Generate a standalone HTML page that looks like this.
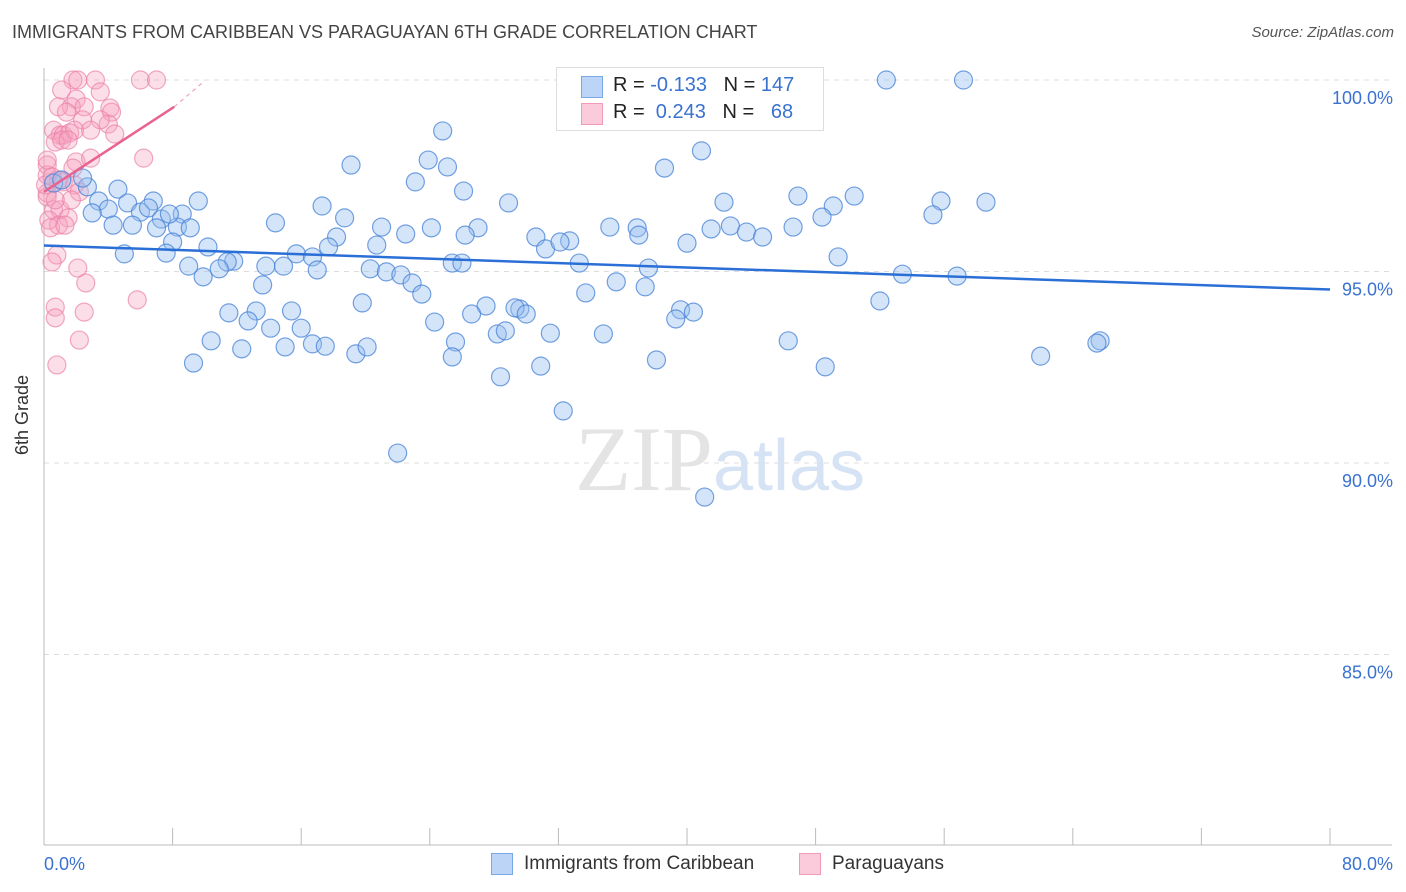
<!DOCTYPE html>
<html><head><meta charset="utf-8">
<style>
body{margin:0;background:#fff;font-family:"Liberation Sans",sans-serif;}
#wrap{position:relative;width:1406px;height:892px;overflow:hidden;}
.t{position:absolute;white-space:nowrap;}
</style></head>
<body>
<div id="wrap">
<div class="t" style="left:12px;top:22px;font-size:18px;color:#444;">IMMIGRANTS FROM CARIBBEAN VS PARAGUAYAN 6TH GRADE CORRELATION CHART</div>
<div class="t" style="right:12px;top:24px;font-size:15px;color:#555;font-style:italic;">Source: ZipAtlas.com</div>
<svg id="chart" width="1406" height="892" style="position:absolute;left:0;top:0"></svg>
<div class="t" style="left:556px;top:67px;width:266px;height:62px;border:1px solid #ddd;background:rgba(255,255,255,0.9);">
  <div style="position:absolute;left:24px;top:8px;width:20px;height:20px;background:#bcd4f5;border:1px solid #7aa7e6;"></div>
  <div style="position:absolute;left:24px;top:35px;width:20px;height:20px;background:#fbcadb;border:1px solid #f09ab8;"></div>
  <div style="position:absolute;left:56px;top:6px;font-size:20px;color:#222;">R = <span style="color:#3a72d0">-0.133</span>&nbsp;&nbsp;&nbsp;N = <span style="color:#3a72d0">147</span></div>
  <div style="position:absolute;left:56px;top:33px;font-size:20px;color:#222;">R = &nbsp;<span style="color:#3a72d0">0.243</span>&nbsp;&nbsp;&nbsp;N = &nbsp;&nbsp;<span style="color:#3a72d0">68</span></div>
</div>
<div class="t" style="left:491px;top:853px;width:20px;height:20px;background:#bcd4f5;border:1px solid #7aa7e6;"></div>
<div class="t" style="left:524px;top:853px;font-size:19px;color:#333;">Immigrants from Caribbean</div>
<div class="t" style="left:799px;top:853px;width:20px;height:20px;background:#fbcadb;border:1px solid #f09ab8;"></div>
<div class="t" style="left:832px;top:853px;font-size:19px;color:#333;">Paraguayans</div>
<div class="t" style="left:12px;top:455px;font-size:18px;color:#333;transform:rotate(-90deg);transform-origin:left top;">6th Grade</div>
</div>
<script>
const yTicks=[100,95,90,85];
const yTickLabels=["100.0%","95.0%","90.0%","85.0%"];
const xEndLabels=["0.0%","80.0%"];
const blueX=[52.4,57.2,24.8,40.9,23.9,19.1,25.1,38.6,23.1,26.1,46.9,50.4,4.6,2.7,0.6,1.1,2.4,6.8,9.6,17.3,28.9,42.3,55.8,58.6,5.2,3.4,4.0,3.0,6.0,6.5,7.3,8.6,18.7,14.4,21.0,24.1,27.0,35.2,36.9,41.5,42.7,49.1,48.4,55.3,46.6,4.3,5.5,7.0,8.3,22.5,30.6,32.7,37.0,43.7,44.7,26.2,8.0,10.2,18.2,17.7,20.7,31.2,32.1,40.0,5.0,7.6,15.7,16.7,49.4,11.8,9.0,11.4,13.8,14.9,25.4,26.0,33.3,37.6,10.9,9.9,17.0,20.3,21.3,22.2,22.9,53.4,56.8,13.6,23.5,33.7,35.6,37.4,19.8,27.5,29.6,29.3,30.0,52.0,11.5,13.2,15.4,26.6,39.6,40.4,39.3,12.7,24.3,14.1,16.0,10.4,12.3,15.0,16.7,17.5,19.4,20.1,25.6,28.2,28.7,31.5,34.8,46.3,65.7,65.5,9.3,25.4,30.9,38.1,48.6,62.0,28.4,32.3,22.0,41.1,7.8,9.1];
const blueY=[100,100,98.67,98.15,97.91,97.78,97.73,97.70,97.34,97.10,96.97,96.97,97.15,97.21,97.31,97.39,97.44,96.84,96.84,96.71,96.79,96.81,96.84,96.81,96.79,96.84,96.63,96.53,96.55,96.66,96.37,96.50,96.40,96.27,96.16,96.14,96.14,96.16,96.14,96.11,96.19,96.71,96.42,96.48,96.16,96.21,96.21,96.14,96.16,95.98,95.90,95.80,95.95,96.03,95.90,95.95,95.77,95.64,95.90,95.64,95.69,95.59,95.77,95.74,95.46,95.48,95.46,95.38,95.38,95.27,95.14,95.25,95.14,95.14,95.22,95.22,95.22,95.09,95.07,94.86,95.04,95.07,94.99,94.91,94.70,94.93,94.88,94.65,94.41,94.44,94.73,94.60,94.18,94.10,94.02,94.05,93.89,94.23,93.92,93.97,93.97,93.89,94.00,93.94,93.76,93.71,93.68,93.52,93.52,93.19,92.98,93.03,93.11,93.05,92.85,93.03,93.16,93.37,93.45,93.39,93.37,93.19,93.19,93.13,92.61,92.77,92.53,92.69,92.51,92.79,92.25,91.36,90.26,89.11,96.50,96.14];
const pinkX=[1.8,2.1,3.2,6.0,7.0,1.1,3.5,2.0,1.7,0.9,2.5,4.1,1.4,4.2,2.4,4.0,0.6,1.0,1.2,1.6,1.9,0.7,1.1,1.5,4.4,2.0,6.2,2.9,0.2,1.8,0.2,0.9,0.5,1.2,1.9,2.2,0.2,0.2,0.6,1.0,1.5,0.3,0.9,0.4,1.3,1.7,0.7,0.8,0.5,2.1,2.6,5.8,0.7,0.7,2.5,2.2,0.8,0.1,0.2,3.5,2.9];
const pinkY=[100,100,100,100,100,99.74,99.69,99.50,99.30,99.30,99.30,99.27,99.16,99.16,98.96,98.85,98.69,98.56,98.56,98.62,98.69,98.38,98.43,98.43,98.59,97.86,97.96,97.96,97.78,97.70,97.52,97.39,97.47,97.34,97.26,97.08,97.05,96.95,96.61,96.61,96.40,96.34,96.21,96.14,96.21,96.87,96.87,95.43,95.25,95.09,94.70,94.26,94.07,93.79,93.94,93.21,92.56,97.26,97.91,98.96,98.69];
const blueTrendX=[0,80];
const blueTrendY=[95.68,94.53];
const pinkTrendX=[0,8.1,10];
const pinkTrendY=[97.08,99.3,99.98];

const NS="http://www.w3.org/2000/svg";
const svg=document.getElementById('chart');
const X0=44,X1=1330,Y0=80,PPY=38.3;
function sx(v){return X0+(X1-X0)*v/80;}
function sy(v){return Y0+(100-v)*PPY;}
function mk(tag,attrs){const e=document.createElementNS(NS,tag);for(const k in attrs)e.setAttribute(k,attrs[k]);svg.appendChild(e);return e;}

yTicks.forEach((t,i)=>{
  const g=mk('line',{x1:X0,x2:1392,y1:sy(t),y2:sy(t),stroke:'#dcdcdc','stroke-dasharray':'5,5'});
  
  
  const tx=mk('text',{x:1393,y:sy(t)+24,'text-anchor':'end','font-size':18,fill:'#3a72d0','font-family':'Liberation Sans'});
  tx.textContent=yTickLabels[i];
  
  
});
const ax=mk('line',{x1:X0,x2:X0,y1:68,y2:845,stroke:'#bbb'});


const bx=mk('line',{x1:X0,x2:1392,y1:845,y2:845,stroke:'#bbb'});


for(let i=0;i<=10;i++){
  const tk=mk('line',{x1:sx(i*8),x2:sx(i*8),y1:828,y2:845,stroke:'#bbb'});
  
  
}
[[0,'start',44],[80,'end',1393]].forEach((a,i)=>{
  const tx=mk('text',{x:a[2],y:870,'text-anchor':a[1],'font-size':18,fill:'#3a72d0','font-family':'Liberation Sans'});
  tx.textContent=xEndLabels[i];
  
  
});
const wm=mk('text',{x:720,y:490,'text-anchor':'middle','font-size':92,'font-family':'Liberation Serif',fill:'#e4e4e4'});
wm.innerHTML='ZIP<tspan font-family="Liberation Sans" font-size="72" fill="#d6e3f4">atlas</tspan>';



pinkX.forEach((x,i)=>{
  const c=mk('circle',{cx:sx(x),cy:sy(pinkY[i]),r:9,fill:'rgba(245,160,190,0.35)',stroke:'rgba(235,130,170,0.7)','stroke-width':1.2});
  
  
});
blueX.forEach((x,i)=>{
  const c=mk('circle',{cx:sx(x),cy:sy(blueY[i]),r:9,fill:'rgba(150,190,240,0.4)',stroke:'rgba(70,130,215,0.75)','stroke-width':1.2});
  
  
});
const bl=mk('line',{x1:sx(blueTrendX[0]),y1:sy(blueTrendY[0]),x2:sx(blueTrendX[1]),y2:sy(blueTrendY[1]),stroke:'#2a6fd6','stroke-width':2.5});


const pl=mk('line',{x1:sx(pinkTrendX[0]),y1:sy(pinkTrendY[0]),x2:sx(pinkTrendX[1]),y2:sy(pinkTrendY[1]),stroke:'#e8638f','stroke-width':2.5});


const pd=mk('line',{x1:sx(pinkTrendX[1]),y1:sy(pinkTrendY[1]),x2:sx(pinkTrendX[2]),y2:sy(pinkTrendY[2]),stroke:'#f0a0bc','stroke-width':1.2,'stroke-dasharray':'4,4'});


</script>
</body></html>
